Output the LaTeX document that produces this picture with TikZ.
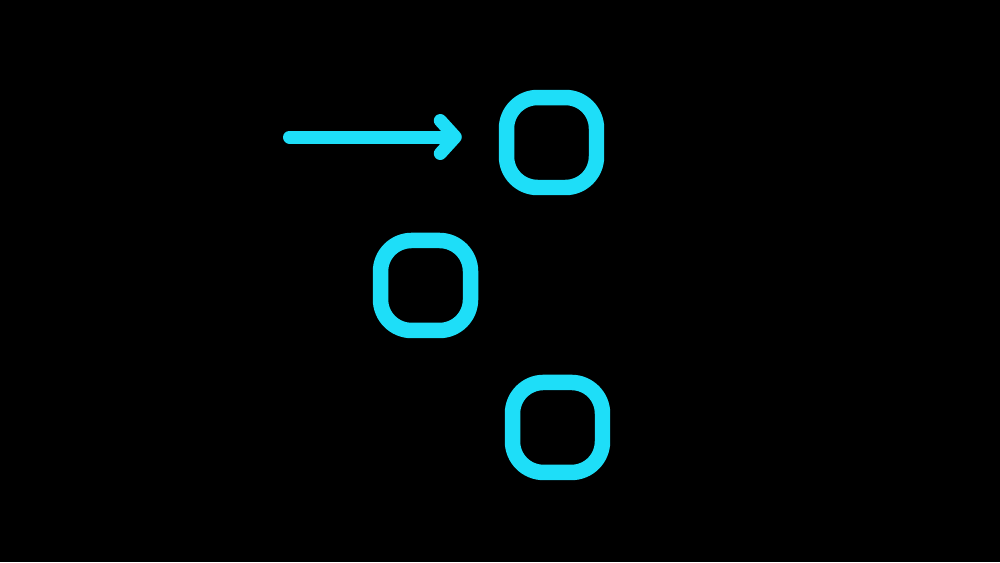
\documentclass[tikz,border=0pt]{standalone}
\usepackage{tikz}
\usetikzlibrary{positioning,arrows.meta}
\definecolor{neoncyan}{RGB}{30,222,248}

\begin{document}
\begin{tikzpicture}
[x=0.02cm, y=-0.02cm,
node distance=2.8cm, on grid,
box/.style={draw=neoncyan, line width=0.31cm, rounded corners=0.62cm,
  minimum size=1.8cm, inner sep=0pt},
pointer/.style={neoncyan, line width=0.26cm, line cap=round,
  -{Straight Barb[round, length=0.3cm, width=0.66cm]}, shorten >=0.74cm}
]
  % black background, fixes the margins
  \fill[black] (0,0) rectangle (1000,562);

  \node[box]	(top)  at (551.5,142.5)			{};
  \node[box]	(mid)  [below left=2.86cm and 2.52cm of top]	{};
  \node[box]	(bot)  [below right=2.84cm and 2.64cm of mid]	{};

  \coordinate (tail) at (289.5,137);
  \draw[pointer] (tail) -- (tail -| top.west);
\end{tikzpicture}
\end{document}
